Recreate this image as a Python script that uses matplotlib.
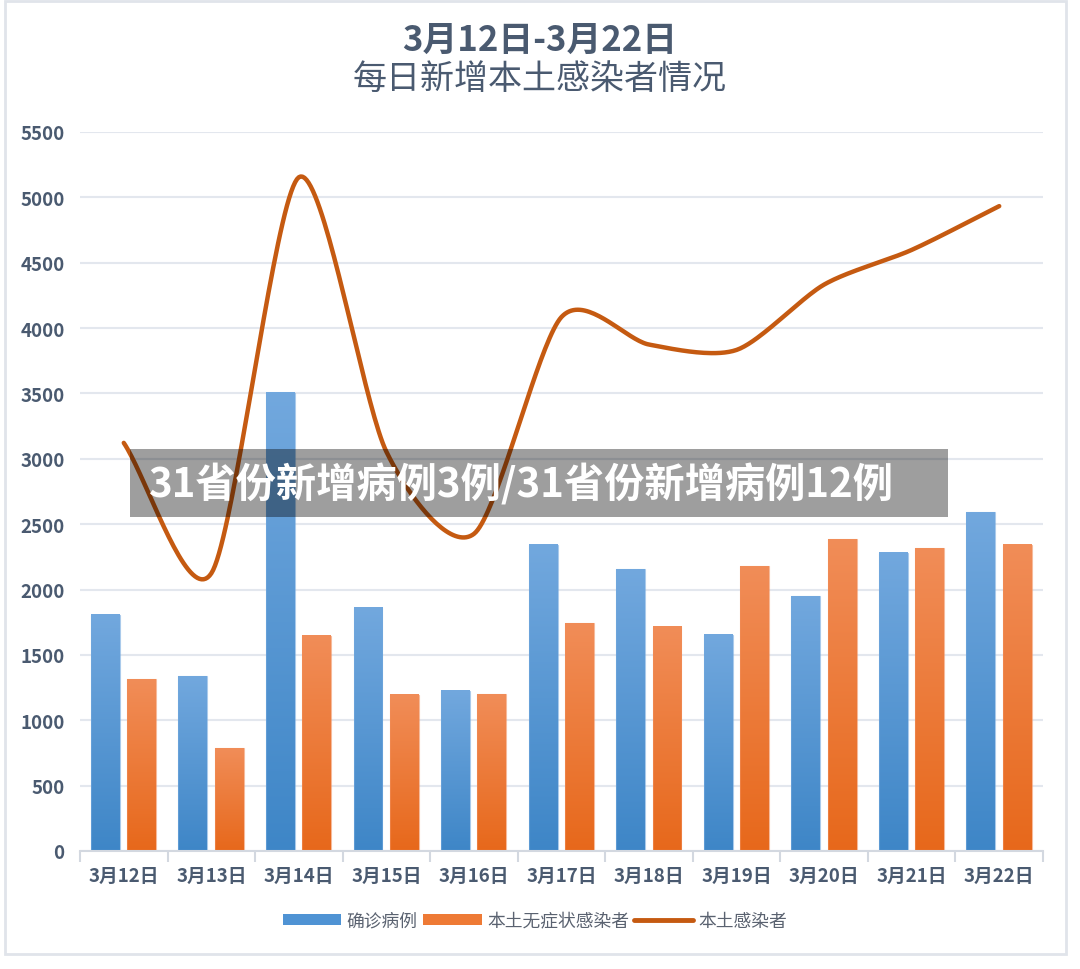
import matplotlib
matplotlib.use("Agg")
import matplotlib.pyplot as plt
import numpy as np
from matplotlib.patches import Rectangle, Patch
from matplotlib.lines import Line2D
from matplotlib.colors import LinearSegmentedColormap

plt.rcParams['font.family'] = ['Noto Sans CJK SC', 'DejaVu Sans']

dates = ['3月12日', '3月13日', '3月14日', '3月15日', '3月16日', '3月17日',
         '3月18日', '3月19日', '3月20日', '3月21日', '3月22日']
confirmed = [1807, 1337, 3507, 1860, 1226, 2341, 2157, 1656, 1947, 2281, 2591]
asymptomatic = [1315, 787, 1647, 1194, 1200, 1744, 1717, 2177, 2386, 2317, 2342]
local_total = [3122, 2124, 5154, 3054, 2426, 4085, 3874, 3833, 4333, 4598, 4933]

title_1 = '3月12日-3月22日'
title_2 = '每日新增本土感染者情况'
banner = '31省份新增病例3例/31省份新增病例12例'

TEXT = '#4a5a70'
BLUE_TOP, BLUE_BOT = '#72a8de', '#3e86c7'
ORANGE_TOP, ORANGE_BOT = '#f18d58', '#e7681b'
LINE = '#c55a11'


def smooth_line(x, y, tension=0.8, n=40):
    """cubic hermite through the points (spreadsheet-style smoothed line)"""
    x = np.asarray(x, float)
    y = np.asarray(y, float)
    px = np.concatenate([[2 * x[0] - x[1]], x, [2 * x[-1] - x[-2]]])
    py = np.concatenate([[2 * y[0] - y[1]], y, [2 * y[-1] - y[-2]]])
    t = np.linspace(0, 1, n)
    h00 = 2 * t ** 3 - 3 * t ** 2 + 1
    h10 = t ** 3 - 2 * t ** 2 + t
    h01 = -2 * t ** 3 + 3 * t ** 2
    h11 = t ** 3 - t ** 2
    xs, ys = [], []
    for i in range(1, len(px) - 2):
        for p, out in ((px, xs), (py, ys)):
            m1 = tension * 0.5 * (p[i + 1] - p[i - 1])
            m2 = tension * 0.5 * (p[i + 2] - p[i])
            out.extend(h00 * p[i] + h10 * m1 + h01 * p[i + 1] + h11 * m2)
    return np.array(xs), np.array(ys)


def gradient_bars(ax, xs, heights, width, top, bottom):
    cmap = LinearSegmentedColormap.from_list('g', [bottom, top])
    grad = np.linspace(0, 1, 256).reshape(-1, 1)
    for x, h in zip(xs, heights):
        ax.imshow(grad, cmap=cmap, origin='lower', aspect='auto',
                  extent=[x - width / 2, x + width / 2, 0, h], zorder=2)
        ax.add_patch(Rectangle((x - width / 2, 0), width, h, fill=False,
                               edgecolor=top, lw=0.8, alpha=0.6, zorder=2))


fig = plt.figure(figsize=(10.8, 9.7), dpi=100)
ax = fig.add_axes([80 / 1080, 1 - 852 / 970, 963 / 1080, 719 / 970])

x = np.arange(len(dates))
w = 0.33
gradient_bars(ax, x - 0.21, confirmed, w, BLUE_TOP, BLUE_BOT)
gradient_bars(ax, x + 0.205, asymptomatic, w, ORANGE_TOP, ORANGE_BOT)

sx, sy = smooth_line(x, local_total)
ax.plot(sx, sy, color=LINE, lw=3.2, solid_capstyle='round', zorder=3)

ax.set_xlim(-0.5, len(dates) - 0.5)
ax.set_ylim(0, 5500)
ax.set_yticks(np.arange(0, 5501, 500))
ax.grid(axis='y', color='#e3e7ee', lw=1.5, zorder=0)
ax.set_axisbelow(True)
for s in ['top', 'right', 'left']:
    ax.spines[s].set_visible(False)
ax.spines['bottom'].set_color('#d3d8e0')
ax.spines['bottom'].set_linewidth(1.5)

ax.set_xticks(x)
ax.set_xticklabels(dates)
ax.set_xticks(np.arange(-0.5, len(dates)), minor=True)
ax.tick_params(axis='x', which='major', length=0, pad=11,
               labelsize=13.5, labelcolor=TEXT)
ax.tick_params(axis='x', which='minor', length=8, width=1.5, color='#d3d8e0')
ax.tick_params(axis='y', length=0, pad=11, labelsize=13.5, labelcolor=TEXT)
for lab in ax.get_xticklabels() + ax.get_yticklabels():
    lab.set_fontweight('bold')

fig.text(0.5, 1 - 40 / 970, title_1, ha='center', va='center',
         fontsize=25, fontweight='bold', color=TEXT)
fig.text(0.5, 1 - 79 / 970, title_2, ha='center', va='center',
         fontsize=24.5, color=TEXT)

# legend
handles = [Patch(facecolor='#4f93d4', edgecolor='none'),
           Patch(facecolor='#ee7a35', edgecolor='none'),
           Line2D([0], [0], color=LINE, lw=3.5, solid_capstyle='round')]
fig.legend(handles, ['确诊病例', '本土无症状感染者', '本土感染者'],
           loc='center', bbox_to_anchor=(535 / 1080, 1 - 922 / 970), ncol=3,
           frameon=False, fontsize=12.8, labelcolor='#5a6270',
           handlelength=3.3, handleheight=0.6, handletextpad=0.3,
           columnspacing=0.3)

# outer border
fig.add_artist(Rectangle((5 / 1080, 1 - 955 / 970), 1061 / 1080, 953 / 970,
                         transform=fig.transFigure, fill=False,
                         edgecolor='#e0e4ea', lw=2))

# grey banner over the chart
fig.add_artist(Rectangle((130 / 1080, 1 - 518 / 970), 818 / 1080, 68 / 970,
                         transform=fig.transFigure, facecolor='black',
                         alpha=0.38, edgecolor='none', zorder=10))
fig.text(148 / 1080, 1 - 485 / 970, banner, ha='left', va='center',
         fontsize=29, fontweight='black', color='white', zorder=11)

fig.savefig('out.png', dpi=100)
